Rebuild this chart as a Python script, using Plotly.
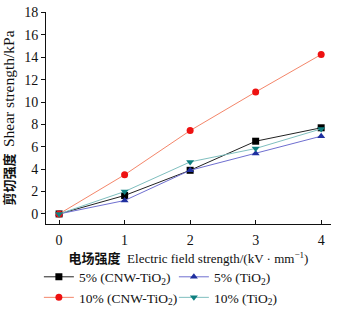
import plotly.graph_objects as go

x_vals = [0, 1, 2, 3, 4]
s5_cnw = [0, 1.65, 3.9, 6.5, 7.7]
s5_tio2 = [0, 1.2, 3.9, 5.4, 6.95]
s10_cnw = [0, 3.5, 7.45, 10.9, 14.25]
s10_tio2 = [0, 2.0, 4.65, 5.85, 7.6]

names = ["5% (CNW-TiO<sub>2</sub>)", "5% (TiO<sub>2</sub>)",
         "10% (CNW-TiO<sub>2</sub>)", "10% (TiO<sub>2</sub>)"]

FONT = "Liberation Serif, Times New Roman, Noto Sans CJK SC, serif"

fig = go.Figure()
specs = [
    (s5_cnw, names[0], "#222222", "#000000", "square"),
    (s5_tio2, names[1], "#6f6fd0", "#1f2f9f", "triangle-up"),
    (s10_cnw, names[2], "#f4866a", "#ee1111", "circle"),
    (s10_tio2, names[3], "#7fbfbf", "#0f8080", "triangle-down"),
]
for ys, nm, lc, mc, sym in specs:
    fig.add_trace(go.Scatter(
        x=x_vals, y=ys, name=nm, mode="lines+markers",
        line=dict(color=lc, width=1),
        marker=dict(color=mc, symbol=sym, size=7),
    ))

fig.update_layout(
    width=347, height=319,
    margin=dict(l=46, r=16, t=5, b=87),
    paper_bgcolor="white", plot_bgcolor="white",
    font=dict(family=FONT, size=13, color="#111111"),
    showlegend=True,
    legend=dict(orientation="h", x=-0.025, y=-0.177, xanchor="left", yanchor="top",
                entrywidth=90, entrywidthmode="pixels",
                font=dict(size=13.5), tracegroupgap=0, itemwidth=30,
                bgcolor="rgba(0,0,0,0)"),
)
fig.update_xaxes(
    range=[-0.2, 4.15], tickvals=[0, 1, 2, 3, 4],
    showgrid=False, zeroline=False, showline=True, linecolor="#111111", linewidth=1,
    ticks="inside", ticklen=4, tickcolor="#111111", tickfont=dict(size=14),
    ticklabelstandoff=3,
    title=dict(text="<b>电场强度</b>  Electric field strength/(kV · mm<sup>−1</sup>)",
               font=dict(size=13), standoff=7),
)
fig.update_yaxes(
    range=[-0.9, 18.05], tickvals=[0, 2, 4, 6, 8, 10, 12, 14, 16, 18],
    showgrid=False, zeroline=False, showline=True, linecolor="#111111", linewidth=1,
    ticks="outside", ticklen=4, tickcolor="#111111", tickfont=dict(size=14),
    ticklabeloverflow="allow",
    title=dict(text="<b>剪切强度</b>  <span style='font-size:15.5px'>Shear strength/kPa</span>",
               font=dict(size=13), standoff=7),
)

fig.write_html("out.html", config={"displayModeBar": False},
               post_script="document.body.style.margin='0';")
